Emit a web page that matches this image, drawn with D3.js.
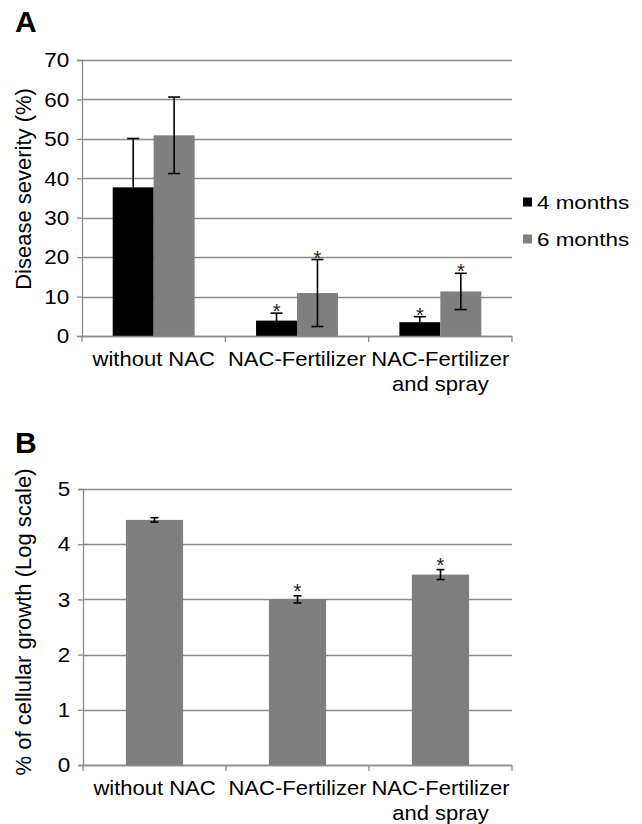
<!DOCTYPE html>
<html>
<head>
<meta charset="utf-8">
<script src="https://cdn.jsdelivr.net/npm/d3@7"></script>
<style>
  html, body { margin: 0; padding: 0; background: #fff; }
  svg { display: block; font-family: "Liberation Sans", Arial, sans-serif; }
</style>
</head>
<body>
<svg id="chart" width="642" height="824"></svg>
<script>
// categories shared by both panels
const categories = ["without NAC", "NAC-Fertilizer", "NAC-Fertilizer\nand spray"];

// panel A: disease severity (%)
const seriesNames = ["4 months", "6 months"];
const severity4 = [37.7, 3.9, 3.5];
const severity4Err = [12.4, 1.9, 1.4];
const severity6 = [50.9, 10.9, 11.3];
const severity6Err = [9.7, 8.5, 4.6];
const severity4Sig = [false, true, true];
const severity6Sig = [false, true, true];
const severityTicks = [0, 10, 20, 30, 40, 50, 60, 70];

// panel B: cellular growth (log scale)
const growth = [4.44, 3.0, 3.45];
const growthErr = [0.04, 0.065, 0.09];
const growthSig = [false, true, true];
const growthTicks = [0, 1, 2, 3, 4, 5];

const seriesColors = ["#000000", "#7f7f7f"];
const gridColor = "#8a8a8a";

const svg = d3.select("#chart");

// common helpers
function drawYAxis(g, y, ticks, x0, x1) {
  g.append("g")
    .selectAll("line")
    .data(ticks)
    .join("line")
    .attr("x1", x0)
    .attr("x2", x1)
    .attr("y1", (d) => Math.round(y(d)) + 0.5)
    .attr("y2", (d) => Math.round(y(d)) + 0.5)
    .attr("stroke", gridColor)
    .attr("stroke-width", 1.3);

  const ax = g.append("g")
    .attr("transform", `translate(${x0}, 0)`)
    .call(d3.axisLeft(y).tickValues(ticks).tickSize(5).tickPadding(7).tickFormat(d3.format("d")));
  ax.select(".domain").attr("stroke", gridColor).attr("stroke-width", 1.3);
  ax.selectAll(".tick line").attr("stroke", gridColor).attr("stroke-width", 1.3);
  ax.selectAll(".tick text")
    .attr("fill", "#000")
    .attr("transform", "scale(1.07,1)")
    .style("font-size", "21px")
    .style("font-family", "'Liberation Sans', Arial, sans-serif");
}

function drawXAxis(g, xOuter, yBase, x0, x1) {
  g.append("line")
    .attr("x1", x0)
    .attr("x2", x1)
    .attr("y1", yBase + 0.5)
    .attr("y2", yBase + 0.5)
    .attr("stroke", gridColor)
    .attr("stroke-width", 1.3);

  const bounds = categories.map((c) => xOuter(c)).concat([x1]);
  g.append("g")
    .selectAll("line")
    .data(bounds)
    .join("line")
    .attr("x1", (d) => d)
    .attr("x2", (d) => d)
    .attr("y1", yBase)
    .attr("y2", yBase + 6)
    .attr("stroke", gridColor)
    .attr("stroke-width", 1.3);

  const labels = g.append("g")
    .selectAll("text")
    .data(categories)
    .join("text")
    .attr("transform", (d) => `translate(${xOuter(d) + xOuter.bandwidth() / 2}, ${yBase + 30}) scale(1.1,1)`)
    .attr("text-anchor", "middle")
    .style("font-size", "20px");
  labels.each(function (d) {
    const t = d3.select(this);
    d.split("\n").forEach((line, i) => {
      t.append("tspan")
        .attr("x", 0)
        .attr("dy", i === 0 ? 0 : 25)
        .text(line);
    });
  });
}

function drawErrorBars(g, rows, y, capW) {
  const eb = g.append("g");
  rows.forEach((r) => {
    const lo = y(r.value - r.err);
    const hi = y(r.value + r.err);
    eb.append("line")
      .attr("x1", r.cx).attr("x2", r.cx)
      .attr("y1", lo).attr("y2", hi)
      .attr("stroke", "#000").attr("stroke-width", 1.6);
    [lo, hi].forEach((yy) => {
      eb.append("line")
        .attr("x1", r.cx - capW / 2).attr("x2", r.cx + capW / 2)
        .attr("y1", yy).attr("y2", yy)
        .attr("stroke", "#000").attr("stroke-width", 1.6);
    });
    if (r.sig) {
      eb.append("text")
        .attr("x", r.cx)
        .attr("y", hi + r.starDy)
        .attr("text-anchor", "middle")
        .attr("fill", "#222")
        .style("font-size", "20px")
        .text("*");
    }
  });
}

// ---------- Panel A ----------
{
  const left = 82, right = 512, top = 60, bottom = 336;
  const g = svg.append("g");

  g.append("text")
    .attr("x", 15).attr("y", 32)
    .style("font-size", "30px").style("font-weight", "bold")
    .text("A");

  const y = d3.scaleLinear().domain([0, 70]).range([bottom, top]);
  const xOuter = d3.scaleBand().domain(categories).range([left, right]);
  const xInner = d3.scaleBand().domain(seriesNames).range([0, xOuter.bandwidth()]).paddingOuter(0.75);

  drawYAxis(g, y, severityTicks, left, right);

  const values = [severity4, severity6];
  const errs = [severity4Err, severity6Err];
  const sigs = [severity4Sig, severity6Sig];
  const rows = [];
  seriesNames.forEach((s, si) => {
    categories.forEach((c, ci) => {
      rows.push({
        series: s, cat: c, value: values[si][ci], err: errs[si][ci], sig: sigs[si][ci],
        color: seriesColors[si],
        x: xOuter(c) + xInner(s),
        cx: xOuter(c) + xInner(s) + xInner.bandwidth() / 2,
        starDy: 5,
      });
    });
  });

  g.append("g")
    .selectAll("rect")
    .data(rows)
    .join("rect")
    .attr("x", (d) => d.x)
    .attr("y", (d) => y(d.value))
    .attr("width", xInner.bandwidth())
    .attr("height", (d) => y(0) - y(d.value))
    .attr("fill", (d) => d.color);

  drawErrorBars(g, rows, y, 12);
  drawXAxis(g, xOuter, bottom, left, right);

  g.append("text")
    .attr("transform", `translate(31, 189) rotate(-90)`)
    .attr("text-anchor", "middle")
    .style("font-size", "22px")
    .text("Disease severity (%)");

  const legend = g.append("g")
    .selectAll("g")
    .data(seriesNames)
    .join("g")
    .attr("transform", (d, i) => `translate(523, ${202 + i * 37})`);
  legend.append("rect")
    .attr("x", 0).attr("y", -4.5)
    .attr("width", 9).attr("height", 9)
    .attr("fill", (d, i) => seriesColors[i]);
  legend.append("text")
    .attr("transform", "translate(14, 7) scale(1.18,1)")
    .style("font-size", "19px")
    .text((d) => d);
}

// ---------- Panel B ----------
{
  const left = 83, right = 512, top = 489, bottom = 765;
  const g = svg.append("g");

  g.append("text")
    .attr("x", 15).attr("y", 453)
    .style("font-size", "30px").style("font-weight", "bold")
    .text("B");

  const y = d3.scaleLinear().domain([0, 5]).range([bottom, top]);
  const xOuter = d3.scaleBand().domain(categories).range([left, right]);
  const xBar = d3.scaleBand().domain(categories).range([left, right]).paddingInner(0.6).paddingOuter(0.3);

  drawYAxis(g, y, growthTicks, left, right);

  const rows = categories.map((c, i) => ({
    cat: c, value: growth[i], err: growthErr[i], sig: growthSig[i],
    x: xBar(c), cx: xBar(c) + xBar.bandwidth() / 2, starDy: 2.5,
  }));

  g.append("g")
    .selectAll("rect")
    .data(rows)
    .join("rect")
    .attr("x", (d) => d.x)
    .attr("y", (d) => y(d.value))
    .attr("width", xBar.bandwidth())
    .attr("height", (d) => y(0) - y(d.value))
    .attr("fill", seriesColors[1]);

  drawErrorBars(g, rows, y, 8);
  drawXAxis(g, xOuter, bottom, left, right);

  g.append("text")
    .attr("transform", `translate(31, 622) rotate(-90)`)
    .attr("text-anchor", "middle")
    .style("font-size", "22px")
    .text("% of cellular growth (Log scale)");
}
</script>
</body>
</html>
